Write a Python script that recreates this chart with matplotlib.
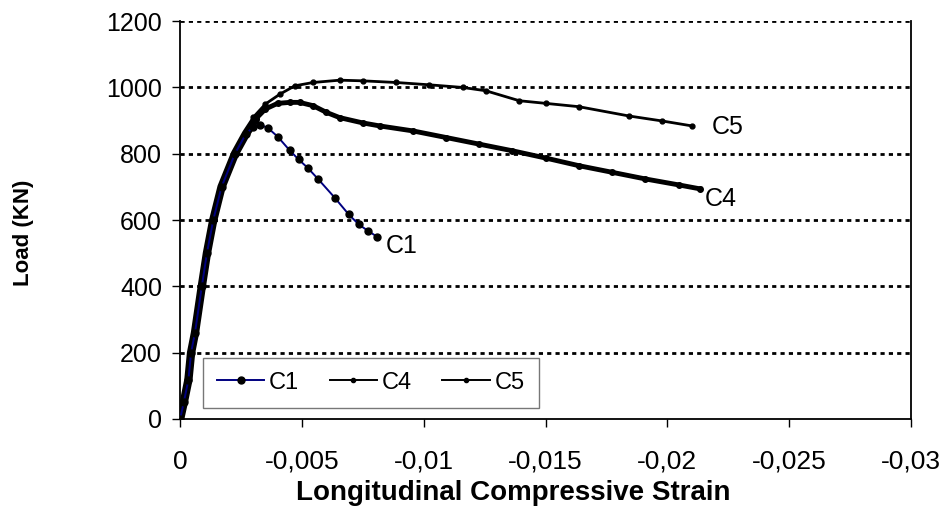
import numpy as np
import matplotlib
matplotlib.use("Agg")
import matplotlib.pyplot as plt
from matplotlib.lines import Line2D

plt.rcParams['font.family'] = ['Liberation Sans', 'DejaVu Sans']

# strain (negative, compression) and load in kN
c1_strain = [0, -0.00015, -0.00034, -0.00045, -0.00061, -0.00089, -0.0011, -0.00136,
             -0.0017, -0.00225, -0.0027, -0.0030, -0.00327, -0.0036, -0.0040, -0.0045,
             -0.00486, -0.00523, -0.00566, -0.00634, -0.00692, -0.00733, -0.0077, -0.0081]
c1_load = [0, 50, 118, 200, 260, 400, 500, 600,
           700, 800, 860, 880, 888, 878, 852, 810,
           783, 758, 724, 668, 617, 587, 568, 549]

c4_strain = [0, -0.00015, -0.00034, -0.00045, -0.00061, -0.00089, -0.0011, -0.00136,
             -0.0017, -0.00225, -0.0027, -0.0031, -0.0035, -0.0040, -0.0045, -0.0049,
             -0.00546, -0.0060, -0.00655, -0.0075, -0.00819, -0.00955, -0.01092, -0.01228,
             -0.01364, -0.01501, -0.01637, -0.01774, -0.0191, -0.02047, -0.02135]
c4_load = [0, 50, 118, 200, 260, 400, 500, 600,
           700, 800, 860, 905, 935, 952, 955, 955,
           945, 925, 909, 893, 884, 869, 849, 829,
           809, 787, 764, 744, 724, 706, 694]

c5_strain = [0, -0.00015, -0.00034, -0.00045, -0.00061, -0.00089, -0.0011, -0.00136,
             -0.0017, -0.00225, -0.0027, -0.0030, -0.0035, -0.0041, -0.00471, -0.00546,
             -0.00655, -0.0075, -0.00887, -0.01023, -0.0116, -0.01255, -0.01392, -0.01501,
             -0.01637, -0.01842, -0.01978, -0.02101]
c5_load = [0, 50, 118, 200, 260, 400, 500, 600,
           700, 800, 860, 910, 950, 980, 1005, 1015,
           1022, 1020, 1015, 1008, 1000, 990, 960, 952,
           942, 914, 899, 884]

x_ticks = [0, -0.005, -0.01, -0.015, -0.02, -0.025, -0.03]
x_ticklabels = ['0', '-0,005', '-0,01', '-0,015', '-0,02', '-0,025', '-0,03']
y_ticks = [0, 200, 400, 600, 800, 1000, 1200]

fig = plt.figure(figsize=(9.48, 5.16), dpi=100)
ax = fig.add_axes([0.19, 0.188, 0.771, 0.771])

for y in y_ticks[1:]:
    ax.axhline(y, color='black', lw=2, ls=(0, (1.5, 1.5)), zorder=1)

# dense band on the rising branch
ax.plot(c4_strain[:12], c4_load[:12], color='black', lw=6, solid_capstyle='round', zorder=3)
ax.plot(c4_strain, c4_load, color='black', lw=3.5, marker='o', ms=4, zorder=3)
ax.plot(c5_strain, c5_load, color='black', lw=2, marker='o', ms=3.5, zorder=3)
ax.plot(c1_strain, c1_load, color='#000080', lw=1.4, marker='o', ms=5,
        mfc='black', mec='black', zorder=4)

ax.text(-0.00843, 521, 'C1', fontsize=18, va='center', ha='left')
ax.text(-0.02153, 663, 'C4', fontsize=18, va='center', ha='left')
ax.text(-0.02182, 880, 'C5', fontsize=18, va='center', ha='left')

ax.set_xlim(0, -0.03)
ax.set_ylim(0, 1200)
ax.set_xticks(x_ticks)
ax.set_xticklabels(x_ticklabels)
ax.set_yticks(y_ticks)
ax.tick_params(axis='both', direction='out', length=6, width=1)
ax.tick_params(axis='x', labelsize=19, pad=16)
ax.tick_params(axis='y', labelsize=18, pad=7)
ax.spines['top'].set_visible(False)
for s in ['left', 'bottom', 'right']:
    ax.spines[s].set_linewidth(1.3)

ax.set_xlabel('Longitudinal Compressive Strain', fontsize=20, fontweight='bold')
ax.set_ylabel('Load (KN)', fontsize=16, fontweight='bold')
ax.xaxis.set_label_coords(0.456, -0.153)
ax.yaxis.set_label_coords(-0.20, 0.467)

handles = [Line2D([], [], color='#000080', lw=1.4, marker='o', ms=5, mfc='black', mec='black'),
           Line2D([], [], color='black', lw=1.4, marker='o', ms=3),
           Line2D([], [], color='black', lw=1.4, marker='o', ms=3)]
leg = ax.legend(handles, ['C1', 'C4', 'C5'], loc='lower left', bbox_to_anchor=(0.031, 0.028),
                ncol=3, fontsize=17, frameon=True, fancybox=False, handlelength=2.0,
                handletextpad=0.2, columnspacing=1.3, borderpad=0.6, borderaxespad=0)
leg.get_frame().set_edgecolor('#555555')
leg.get_frame().set_linewidth(1)

fig.savefig('out.png', dpi=100)
